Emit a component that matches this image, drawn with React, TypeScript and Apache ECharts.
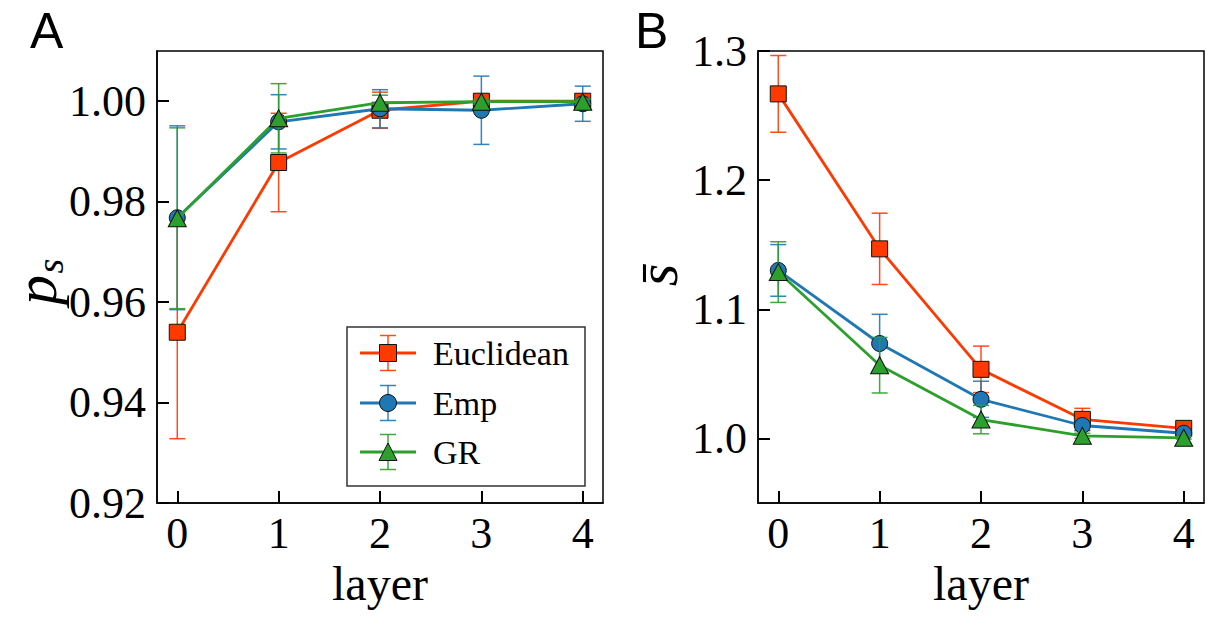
import React, { useEffect, useRef } from "react";
import * as echarts from "echarts";

const layers = [0, 1, 2, 3, 4];
const tickValuesX = [0, 1, 2, 3, 4];
const tickValuesA = [0.92, 0.94, 0.96, 0.98, 1.0];
const tickValuesB = [1.0, 1.1, 1.2, 1.3];
const seriesNames = ["Euclidean", "Emp", "GR"];

// Panel A: p_s
const euclidPs = [0.954, 0.9878, 0.9982, 1.0, 1.0];
const euclidPsErr = [0.0212, 0.0098, 0.0036, 0.0005, 0.0003];
const empPs = [0.9768, 0.9959, 0.9985, 0.9982, 0.9995];
const empPsErr = [0.0183, 0.0054, 0.0038, 0.0068, 0.0035];
const grPs = [0.9767, 0.9966, 0.9997, 0.9999, 0.9999];
const grPsErr = [0.018, 0.0069, 0.0015, 0.0005, 0.0005];

// Panel B: s-bar
const euclidS = [1.2668, 1.1468, 1.0535, 1.0148, 1.0078];
const euclidSErr = [0.0297, 0.0276, 0.018, 0.0085, 0.003];
const empS = [1.1301, 1.0735, 1.0303, 1.01, 1.004];
const empSErr = [0.02, 0.0226, 0.014, 0.004, 0.002];
const grS = [1.1288, 1.0567, 1.0146, 1.002, 1.0005];
const grSErr = [0.0235, 0.0215, 0.011, 0.002, 0.001];

const COLORS = ["#ff3a00", "#1f77b4", "#2ca02c"];
const SYMBOLS = ["rect", "circle", "triangle"];
const SERIF = "'Liberation Serif', 'Times New Roman', serif";
const SANS = "'Liberation Sans', Arial, sans-serif";

function errSeries(vals: number[], errs: number[], color: string, gi: number, z: number) {
  return {
    type: "custom",
    xAxisIndex: gi,
    yAxisIndex: gi,
    z,
    silent: true,
    clip: false,
    encode: { x: 0, y: 1 },
    data: layers.map((l, i) => [l, vals[i], errs[i]]),
    renderItem: (_p: any, api: any) => {
      const x = api.value(0);
      const y = api.value(1);
      const e = api.value(2);
      const hi = api.coord([x, y + e]);
      const lo = api.coord([x, y - e]);
      const cw = 8;
      const style = { stroke: color, lineWidth: 1.5, opacity: 0.9 };
      return {
        type: "group",
        children: [
          { type: "line", shape: { x1: hi[0], y1: hi[1], x2: lo[0], y2: lo[1] }, style },
          { type: "line", shape: { x1: hi[0] - cw, y1: hi[1], x2: hi[0] + cw, y2: hi[1] }, style },
          { type: "line", shape: { x1: lo[0] - cw, y1: lo[1], x2: lo[0] + cw, y2: lo[1] }, style },
        ],
      };
    },
  };
}

function lineSeries(name: string, vals: number[], k: number, gi: number, z: number) {
  const size = k === 2 ? [18, 17] : 16;
  return {
    type: "line",
    name,
    xAxisIndex: gi,
    yAxisIndex: gi,
    z,
    silent: true,
    data: layers.map((l, i) => [l, vals[i]]),
    symbol: SYMBOLS[k],
    symbolSize: size,
    itemStyle: { color: COLORS[k], borderColor: "#111", borderWidth: 1 },
    lineStyle: { color: COLORS[k], width: 2.8 },
    emphasis: { disabled: true },
  };
}

function xAxis(gi: number) {
  return {
    type: "value",
    gridIndex: gi,
    min: -0.2,
    max: 4.2,
    name: "layer",
    nameLocation: "middle",
    nameGap: 53,
    nameTextStyle: { fontFamily: SERIF, fontSize: 48, color: "#000" },
    axisLine: { show: true, onZero: false, lineStyle: { color: "#000", width: 1.5 } },
    splitLine: { show: false },
    axisTick: { show: true, inside: true, length: 12, lineStyle: { color: "#000", width: 2 }, customValues: tickValuesX },
    axisLabel: {
      fontFamily: SERIF,
      fontSize: 44,
      color: "#000",
      margin: 8,
      customValues: tickValuesX,
      formatter: (v: number) => String(Math.round(v)),
    },
  };
}

function yAxis(gi: number, min: number, max: number, ticks: number[], dec: number) {
  return {
    type: "value",
    gridIndex: gi,
    min,
    max,
    axisLine: { show: true, onZero: false, lineStyle: { color: "#000", width: 1.5 } },
    splitLine: { show: false },
    axisTick: { show: true, inside: true, length: 12, lineStyle: { color: "#000", width: 2 }, customValues: ticks },
    axisLabel: {
      fontFamily: SERIF,
      fontSize: 44,
      color: "#000",
      margin: 11,
      customValues: ticks,
      formatter: (v: number) => v.toFixed(dec),
    },
  };
}

function legendGraphics() {
  const left = 347, top = 327, w = 238, h = 159;
  const rowsY = [353, 403, 452];
  const lx1 = 360, lx2 = 416, mx = 388;
  const els: any[] = [
    {
      type: "rect",
      shape: { x: left, y: top, width: w, height: h },
      style: { fill: "#fff", stroke: "#333", lineWidth: 1.5 },
      z: 100,
    },
  ];
  seriesNames.forEach((name, k) => {
    const y = rowsY[k];
    const c = COLORS[k];
    const eb = { stroke: c, lineWidth: 1.5, opacity: 0.9 };
    els.push({ type: "line", shape: { x1: mx, y1: y - 17.5, x2: mx, y2: y + 17.5 }, style: eb, z: 101 });
    els.push({ type: "line", shape: { x1: mx - 8, y1: y - 17.5, x2: mx + 8, y2: y - 17.5 }, style: eb, z: 101 });
    els.push({ type: "line", shape: { x1: mx - 8, y1: y + 17.5, x2: mx + 8, y2: y + 17.5 }, style: eb, z: 101 });
    els.push({ type: "line", shape: { x1: lx1, y1: y, x2: lx2, y2: y }, style: { stroke: c, lineWidth: 2.8 }, z: 102 });
    const ms = { fill: c, stroke: "#111", lineWidth: 1 };
    if (k === 0) {
      els.push({ type: "rect", shape: { x: mx - 8.5, y: y - 8.5, width: 17, height: 17 }, style: ms, z: 103 });
    } else if (k === 1) {
      els.push({ type: "circle", shape: { cx: mx, cy: y, r: 8.5 }, style: ms, z: 103 });
    } else {
      els.push({
        type: "polygon",
        shape: { points: [[mx, y - 9], [mx + 9, y + 8.5], [mx - 9, y + 8.5]] },
        style: ms,
        z: 103,
      });
    }
    els.push({
      type: "text",
      x: 433,
      y: y,
      style: { text: name, font: `34px ${SERIF}`, fill: "#000", textAlign: "left", textVerticalAlign: "middle" },
      z: 103,
    });
  });
  return els;
}

export default function App() {
  const ref = useRef<HTMLDivElement>(null);
  useEffect(() => {
    if (!ref.current) return;
    const chart = echarts.init(ref.current, null, { renderer: "svg" });
    const option: any = {
      animation: false,
      backgroundColor: "#fff",
      grid: [
        { left: 157, top: 51, width: 446, height: 452, show: true, borderColor: "#000", borderWidth: 1.5 },
        { left: 758, top: 51, width: 446, height: 452, show: true, borderColor: "#000", borderWidth: 1.5 },
      ],
      xAxis: [xAxis(0), xAxis(1)],
      yAxis: [yAxis(0, 0.92, 1.01, tickValuesA, 2), yAxis(1, 0.95, 1.3, tickValuesB, 1)],
      series: [
        errSeries(euclidPs, euclidPsErr, COLORS[0], 0, 2),
        lineSeries("Euclidean", euclidPs, 0, 0, 3),
        errSeries(empPs, empPsErr, COLORS[1], 0, 4),
        lineSeries("Emp", empPs, 1, 0, 5),
        errSeries(grPs, grPsErr, COLORS[2], 0, 6),
        lineSeries("GR", grPs, 2, 0, 7),
        errSeries(euclidS, euclidSErr, COLORS[0], 1, 2),
        lineSeries("Euclidean", euclidS, 0, 1, 3),
        errSeries(empS, empSErr, COLORS[1], 1, 4),
        lineSeries("Emp", empS, 1, 1, 5),
        errSeries(grS, grSErr, COLORS[2], 1, 6),
        lineSeries("GR", grS, 2, 1, 7),
      ],
      graphic: [
        { type: "text", x: 30, y: 31, style: { text: "A", font: `50px ${SANS}`, fill: "#000", textAlign: "left", textVerticalAlign: "middle" } },
        { type: "text", x: 635, y: 31, style: { text: "B", font: `50px ${SANS}`, fill: "#000", textAlign: "left", textVerticalAlign: "middle" } },
        {
          type: "group",
          x: 36,
          y: 282,
          rotation: Math.PI / 2,
          children: [
            { type: "text", x: -8, y: 0, style: { text: "p", font: `italic 60px ${SERIF}`, fill: "#000", textAlign: "center", textVerticalAlign: "middle" } },
            { type: "text", x: 16, y: 14, style: { text: "s", font: `italic 38px ${SERIF}`, fill: "#000", textAlign: "center", textVerticalAlign: "middle" } },
          ],
        },
        {
          type: "text",
          x: 657,
          y: 275,
          rotation: Math.PI / 2,
          style: { text: "s\u0304", font: `italic 58px ${SERIF}`, fill: "#000", textAlign: "center", textVerticalAlign: "middle" },
        },
        ...legendGraphics(),
      ],
    };
    chart.setOption(option);
    return () => chart.dispose();
  }, []);
  return <div ref={ref} style={{ position: "fixed", left: 0, top: 0, width: 1219, height: 627, background: "#fff" }} />;
}
